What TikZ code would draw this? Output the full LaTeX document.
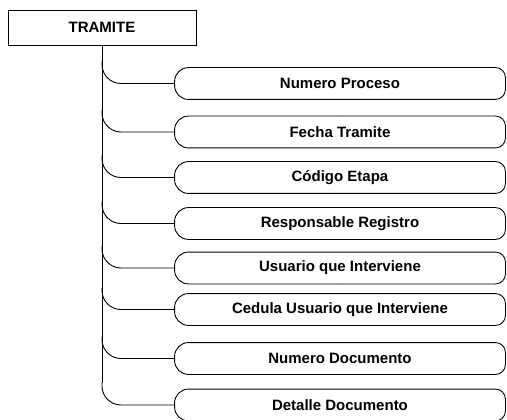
\documentclass[tikz,border=0pt]{standalone}
\usepackage{fontspec}
\setmainfont{Liberation Sans}
\usetikzlibrary{positioning}

\begin{document}
\begin{tikzpicture}[x=1pt,y=-1pt,line width=0.9pt,
  ent/.style={draw,minimum width=188pt,minimum height=35pt,inner sep=0pt,font=\fontsize{15}{18}\selectfont\bfseries},
  attr/.style={minimum width=330pt,minimum height=31pt,inner sep=0pt,font=\fontsize{15}{18}\selectfont\bfseries}]
\useasboundingbox (0,0) rectangle (507,420);
\node[ent] (tramite) at (102,27.5) {TRAMITE};
% attributes hang from the trunk
\foreach \i/\y/\txt in {1/83.5/Numero Proceso,2/132/Fecha Tramite,3/177.5/Código Etapa,4/223.5/Responsable Registro,5/268/Usuario que Interviene,6/309.5/Cedula Usuario que Interviene,7/358.5/Numero Documento,8/405/Detalle Documento}{
  \node[attr] (a\i) at (340,\y) {\txt};
  \draw[rounded corners=14pt] (a\i.north) -- (a\i.north west) -- (a\i.south west) -- (a\i.south);
  \draw[rounded corners=10pt] (a\i.north) -- (a\i.north east) -- (a\i.south east) -- (a\i.south);
  \coordinate[yshift=22pt] (j\i) at (tramite.south |- a\i.west);
  \draw[rounded corners=19pt] (j\i) |- (a\i.west);
}
\draw (tramite.south) -- (j8);
\end{tikzpicture}
\end{document}
